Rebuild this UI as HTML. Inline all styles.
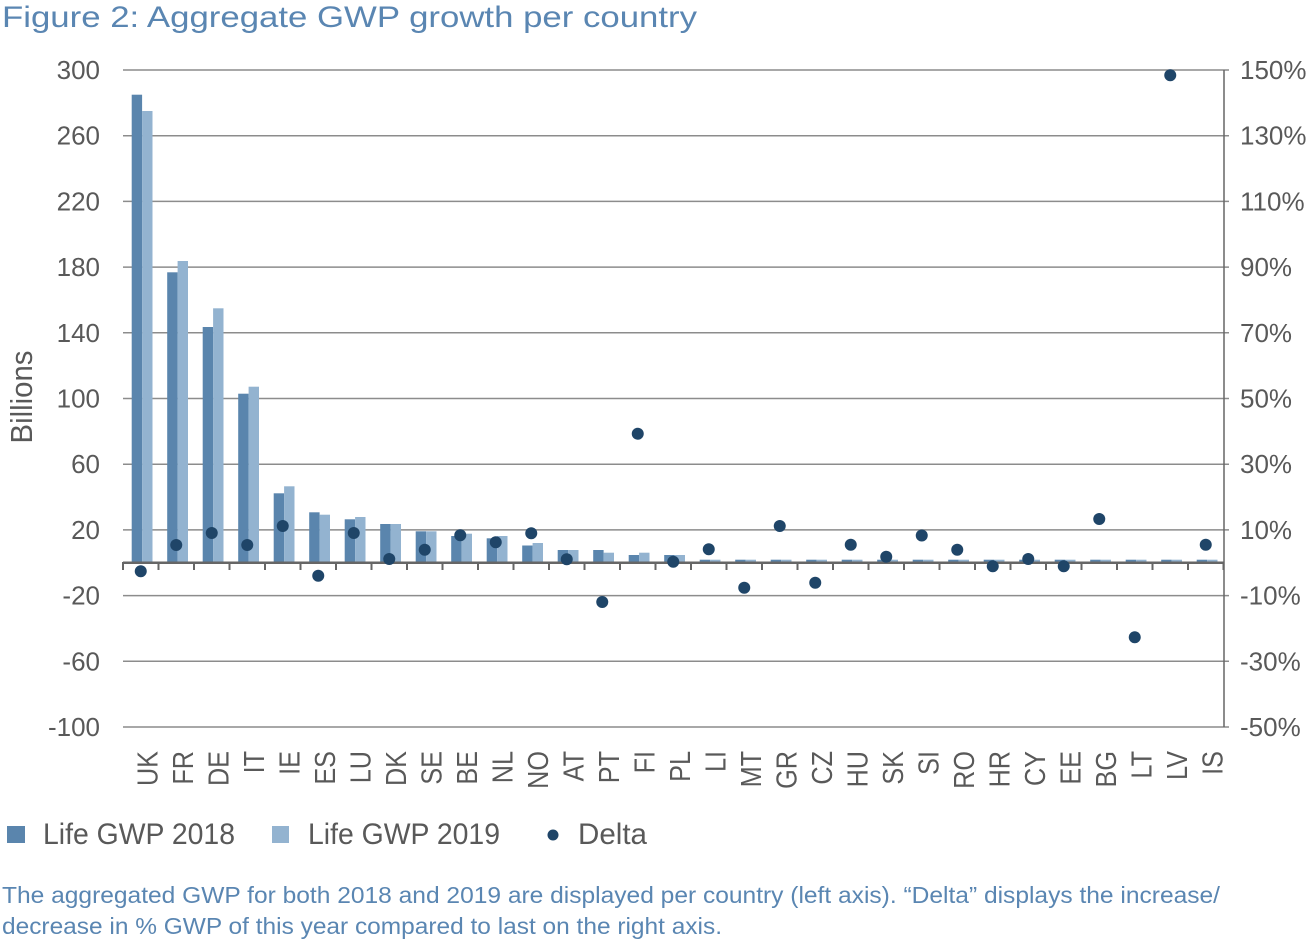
<!DOCTYPE html>
<html><head><meta charset="utf-8"><style>
html,body{margin:0;padding:0;background:#fff;}
svg{display:block;font-family:"Liberation Sans",sans-serif;}
</style></head><body>
<svg width="1308" height="942" viewBox="0 0 1308 942" xmlns="http://www.w3.org/2000/svg">
<rect width="1308" height="942" fill="#fff"/>
<text x="2" y="27" font-size="30" fill="#5a86b2" textLength="695" lengthAdjust="spacingAndGlyphs">Figure 2: Aggregate GWP growth per country</text>

<g stroke="#8c8c8c" stroke-width="1.5">
<line x1="123" y1="70" x2="1229" y2="70"/>
<line x1="123" y1="135.7" x2="1229" y2="135.7"/>
<line x1="123" y1="201.4" x2="1229" y2="201.4"/>
<line x1="123" y1="267.1" x2="1229" y2="267.1"/>
<line x1="123" y1="332.8" x2="1229" y2="332.8"/>
<line x1="123" y1="398.5" x2="1229" y2="398.5"/>
<line x1="123" y1="464.2" x2="1229" y2="464.2"/>
<line x1="123" y1="529.9" x2="1229" y2="529.9"/>
<line x1="123" y1="595.6" x2="1229" y2="595.6"/>
<line x1="123" y1="661.3" x2="1229" y2="661.3"/>
<line x1="123" y1="727" x2="1229" y2="727"/>
</g>
<line x1="1224" y1="70" x2="1224" y2="727" stroke="#666" stroke-width="1.5"/>

<g font-size="26" fill="#595959" text-anchor="end">
<text x="100" y="79">300</text>
<text x="100" y="144.7">260</text>
<text x="100" y="210.4">220</text>
<text x="100" y="276.1">180</text>
<text x="100" y="341.8">140</text>
<text x="100" y="407.5">100</text>
<text x="100" y="473.2">60</text>
<text x="100" y="538.9">20</text>
<text x="100" y="604.6">-20</text>
<text x="100" y="670.3">-60</text>
<text x="100" y="736">-100</text>
</g>
<g font-size="26" fill="#595959">
<text x="1240" y="79">150%</text>
<text x="1240" y="144.7">130%</text>
<text x="1240" y="210.4">110%</text>
<text x="1240" y="276.1">90%</text>
<text x="1240" y="341.8">70%</text>
<text x="1240" y="407.5">50%</text>
<text x="1240" y="473.2">30%</text>
<text x="1240" y="538.9">10%</text>
<text x="1240" y="604.6">-10%</text>
<text x="1240" y="670.3">-30%</text>
<text x="1240" y="736">-50%</text>
</g>
<text transform="translate(32,397) rotate(-90)" text-anchor="middle" font-size="31" fill="#595959" textLength="93" lengthAdjust="spacingAndGlyphs">Billions</text>

<!-- bars -->
<g id="bars"></g>
<g fill="#5a85ad">
<rect x="131.7" y="94.7" width="10.4" height="468.05"/>
<rect x="167.2" y="272.3" width="10.4" height="290.45"/>
<rect x="202.7" y="327" width="10.4" height="235.75"/>
<rect x="238.2" y="393.7" width="10.4" height="169.05"/>
<rect x="273.7" y="493.3" width="10.4" height="69.45"/>
<rect x="309.2" y="512.3" width="10.4" height="50.45"/>
<rect x="344.7" y="519.3" width="10.4" height="43.45"/>
<rect x="380.2" y="524" width="10.4" height="38.75"/>
<rect x="415.7" y="531.3" width="10.4" height="31.45"/>
<rect x="451.2" y="536" width="10.4" height="26.75"/>
<rect x="486.7" y="538.3" width="10.4" height="24.45"/>
<rect x="522.2" y="545.5" width="10.4" height="17.25"/>
<rect x="557.7" y="550" width="10.4" height="12.75"/>
<rect x="593.2" y="550" width="10.4" height="12.75"/>
<rect x="628.7" y="555" width="10.4" height="7.75"/>
<rect x="664.2" y="555" width="10.4" height="7.75"/>
<rect x="699.7" y="559.7" width="10.4" height="3.05"/>
<rect x="735.2" y="559.7" width="10.4" height="3.05"/>
<rect x="770.7" y="559.7" width="10.4" height="3.05"/>
<rect x="806.2" y="559.7" width="10.4" height="3.05"/>
<rect x="841.7" y="559.7" width="10.4" height="3.05"/>
<rect x="877.2" y="559.7" width="10.4" height="3.05"/>
<rect x="912.7" y="559.7" width="10.4" height="3.05"/>
<rect x="948.2" y="559.7" width="10.4" height="3.05"/>
<rect x="983.7" y="559.7" width="10.4" height="3.05"/>
<rect x="1019.2" y="559.7" width="10.4" height="3.05"/>
<rect x="1054.7" y="559.7" width="10.4" height="3.05"/>
<rect x="1090.2" y="559.7" width="10.4" height="3.05"/>
<rect x="1125.7" y="559.7" width="10.4" height="3.05"/>
<rect x="1161.2" y="559.7" width="10.4" height="3.05"/>
<rect x="1196.7" y="559.7" width="10.4" height="3.05"/>
</g>
<g fill="#93b3d0">
<rect x="142.1" y="111" width="10.4" height="451.75"/>
<rect x="177.6" y="261" width="10.4" height="301.75"/>
<rect x="213.1" y="308.3" width="10.4" height="254.45"/>
<rect x="248.6" y="386.7" width="10.4" height="176.05"/>
<rect x="284.1" y="486.3" width="10.4" height="76.45"/>
<rect x="319.6" y="514.7" width="10.4" height="48.05"/>
<rect x="355.1" y="517" width="10.4" height="45.75"/>
<rect x="390.6" y="524" width="10.4" height="38.75"/>
<rect x="426.1" y="531.3" width="10.4" height="31.45"/>
<rect x="461.6" y="533.7" width="10.4" height="29.05"/>
<rect x="497.1" y="536" width="10.4" height="26.75"/>
<rect x="532.6" y="543" width="10.4" height="19.75"/>
<rect x="568.1" y="550" width="10.4" height="12.75"/>
<rect x="603.6" y="552.7" width="10.4" height="10.05"/>
<rect x="639.1" y="552.7" width="10.4" height="10.05"/>
<rect x="674.6" y="555" width="10.4" height="7.75"/>
<rect x="710.1" y="559.7" width="10.4" height="3.05"/>
<rect x="745.6" y="559.7" width="10.4" height="3.05"/>
<rect x="781.1" y="559.7" width="10.4" height="3.05"/>
<rect x="816.6" y="559.7" width="10.4" height="3.05"/>
<rect x="852.1" y="559.7" width="10.4" height="3.05"/>
<rect x="887.6" y="559.7" width="10.4" height="3.05"/>
<rect x="923.1" y="559.7" width="10.4" height="3.05"/>
<rect x="958.6" y="559.7" width="10.4" height="3.05"/>
<rect x="994.1" y="559.7" width="10.4" height="3.05"/>
<rect x="1029.6" y="559.7" width="10.4" height="3.05"/>
<rect x="1065.1" y="559.7" width="10.4" height="3.05"/>
<rect x="1100.6" y="559.7" width="10.4" height="3.05"/>
<rect x="1136.1" y="559.7" width="10.4" height="3.05"/>
<rect x="1171.6" y="559.7" width="10.4" height="3.05"/>
<rect x="1207.1" y="559.7" width="10.4" height="3.05"/>
</g>

<!-- zero axis + ticks -->
<line x1="123" y1="562.75" x2="1224" y2="562.75" stroke="#666" stroke-width="2.5"/>
<g stroke="#666" stroke-width="2">
<line x1="123" y1="562" x2="123" y2="570"/><line x1="158.5" y1="562" x2="158.5" y2="570"/><line x1="194" y1="562" x2="194" y2="570"/><line x1="229.5" y1="562" x2="229.5" y2="570"/><line x1="265" y1="562" x2="265" y2="570"/><line x1="300.5" y1="562" x2="300.5" y2="570"/><line x1="336" y1="562" x2="336" y2="570"/><line x1="371.5" y1="562" x2="371.5" y2="570"/><line x1="407" y1="562" x2="407" y2="570"/><line x1="442.5" y1="562" x2="442.5" y2="570"/><line x1="478" y1="562" x2="478" y2="570"/><line x1="513.5" y1="562" x2="513.5" y2="570"/><line x1="549" y1="562" x2="549" y2="570"/><line x1="584.5" y1="562" x2="584.5" y2="570"/><line x1="620" y1="562" x2="620" y2="570"/><line x1="655.5" y1="562" x2="655.5" y2="570"/><line x1="691" y1="562" x2="691" y2="570"/><line x1="726.5" y1="562" x2="726.5" y2="570"/><line x1="762" y1="562" x2="762" y2="570"/><line x1="797.5" y1="562" x2="797.5" y2="570"/><line x1="833" y1="562" x2="833" y2="570"/><line x1="868.5" y1="562" x2="868.5" y2="570"/><line x1="904" y1="562" x2="904" y2="570"/><line x1="939.5" y1="562" x2="939.5" y2="570"/><line x1="975" y1="562" x2="975" y2="570"/><line x1="1010.5" y1="562" x2="1010.5" y2="570"/><line x1="1046" y1="562" x2="1046" y2="570"/><line x1="1081.5" y1="562" x2="1081.5" y2="570"/><line x1="1117" y1="562" x2="1117" y2="570"/><line x1="1152.5" y1="562" x2="1152.5" y2="570"/><line x1="1188" y1="562" x2="1188" y2="570"/><line x1="1223.5" y1="562" x2="1223.5" y2="570"/>
</g>

<!-- delta dots -->
<g fill="#1f4568">
<circle cx="140.75" cy="571.3" r="6"/>
<circle cx="176.25" cy="545" r="6"/>
<circle cx="211.75" cy="533" r="6"/>
<circle cx="247.25" cy="545" r="6"/>
<circle cx="282.75" cy="526" r="6"/>
<circle cx="318.25" cy="575.7" r="6"/>
<circle cx="353.75" cy="533" r="6"/>
<circle cx="389.25" cy="559" r="6"/>
<circle cx="424.75" cy="549.7" r="6"/>
<circle cx="460.25" cy="535.3" r="6"/>
<circle cx="495.75" cy="542.3" r="6"/>
<circle cx="531.25" cy="533.2" r="6"/>
<circle cx="566.75" cy="559.3" r="6"/>
<circle cx="602.25" cy="602" r="6"/>
<circle cx="637.75" cy="433.7" r="6"/>
<circle cx="673.25" cy="561.7" r="6"/>
<circle cx="708.75" cy="549.3" r="6"/>
<circle cx="744.25" cy="587.7" r="6"/>
<circle cx="779.75" cy="526" r="6"/>
<circle cx="815.25" cy="582.7" r="6"/>
<circle cx="850.75" cy="544.7" r="6"/>
<circle cx="886.25" cy="556.7" r="6"/>
<circle cx="921.75" cy="535.5" r="6"/>
<circle cx="957.25" cy="549.7" r="6"/>
<circle cx="992.75" cy="566.3" r="6"/>
<circle cx="1028.25" cy="559" r="6"/>
<circle cx="1063.75" cy="566.3" r="6"/>
<circle cx="1099.25" cy="519" r="6"/>
<circle cx="1134.75" cy="637.3" r="6"/>
<circle cx="1170.25" cy="75.3" r="6"/>
<circle cx="1205.75" cy="544.7" r="6"/>
</g>

<!-- x labels -->
<g font-size="29" fill="#595959" text-anchor="end">
<text transform="translate(157.25,751) rotate(-90) scale(0.87,1)">UK</text>
<text transform="translate(192.75,751) rotate(-90) scale(0.87,1)">FR</text>
<text transform="translate(228.25,751) rotate(-90) scale(0.87,1)">DE</text>
<text transform="translate(263.75,751) rotate(-90) scale(0.87,1)">IT</text>
<text transform="translate(299.25,751) rotate(-90) scale(0.87,1)">IE</text>
<text transform="translate(334.75,751) rotate(-90) scale(0.87,1)">ES</text>
<text transform="translate(370.25,751) rotate(-90) scale(0.87,1)">LU</text>
<text transform="translate(405.75,751) rotate(-90) scale(0.87,1)">DK</text>
<text transform="translate(441.25,751) rotate(-90) scale(0.87,1)">SE</text>
<text transform="translate(476.75,751) rotate(-90) scale(0.87,1)">BE</text>
<text transform="translate(512.25,751) rotate(-90) scale(0.87,1)">NL</text>
<text transform="translate(547.75,751) rotate(-90) scale(0.87,1)">NO</text>
<text transform="translate(583.25,751) rotate(-90) scale(0.87,1)">AT</text>
<text transform="translate(618.75,751) rotate(-90) scale(0.87,1)">PT</text>
<text transform="translate(654.25,751) rotate(-90) scale(0.87,1)">FI</text>
<text transform="translate(689.75,751) rotate(-90) scale(0.87,1)">PL</text>
<text transform="translate(725.25,751) rotate(-90) scale(0.87,1)">LI</text>
<text transform="translate(760.75,751) rotate(-90) scale(0.87,1)">MT</text>
<text transform="translate(796.25,751) rotate(-90) scale(0.87,1)">GR</text>
<text transform="translate(831.75,751) rotate(-90) scale(0.87,1)">CZ</text>
<text transform="translate(867.25,751) rotate(-90) scale(0.87,1)">HU</text>
<text transform="translate(902.75,751) rotate(-90) scale(0.87,1)">SK</text>
<text transform="translate(938.25,751) rotate(-90) scale(0.87,1)">SI</text>
<text transform="translate(973.75,751) rotate(-90) scale(0.87,1)">RO</text>
<text transform="translate(1009.25,751) rotate(-90) scale(0.87,1)">HR</text>
<text transform="translate(1044.75,751) rotate(-90) scale(0.87,1)">CY</text>
<text transform="translate(1080.25,751) rotate(-90) scale(0.87,1)">EE</text>
<text transform="translate(1115.75,751) rotate(-90) scale(0.87,1)">BG</text>
<text transform="translate(1151.25,751) rotate(-90) scale(0.87,1)">LT</text>
<text transform="translate(1186.75,751) rotate(-90) scale(0.87,1)">LV</text>
<text transform="translate(1222.25,751) rotate(-90) scale(0.87,1)">IS</text>
</g>

<!-- legend -->
<rect x="7" y="826" width="18" height="17" fill="#5a85ad"/>
<text x="43" y="844" font-size="30" fill="#595959" textLength="192" lengthAdjust="spacingAndGlyphs">Life GWP 2018</text>
<rect x="272" y="826" width="17" height="17" fill="#93b3d0"/>
<text x="308" y="844" font-size="30" fill="#595959" textLength="192" lengthAdjust="spacingAndGlyphs">Life GWP 2019</text>
<circle cx="553" cy="835" r="5.5" fill="#1f4568"/>
<text x="578" y="844" font-size="30" fill="#595959" textLength="69" lengthAdjust="spacingAndGlyphs">Delta</text>

<!-- caption -->
<text x="2" y="903" font-size="23" fill="#5a86b2" textLength="1218" lengthAdjust="spacingAndGlyphs">The aggregated GWP for both 2018 and 2019 are displayed per country (left axis). “Delta” displays the increase/</text>
<text x="2" y="934" font-size="23" fill="#5a86b2" textLength="720" lengthAdjust="spacingAndGlyphs">decrease in % GWP of this year compared to last on the right axis.</text>
</svg>
</body></html>
